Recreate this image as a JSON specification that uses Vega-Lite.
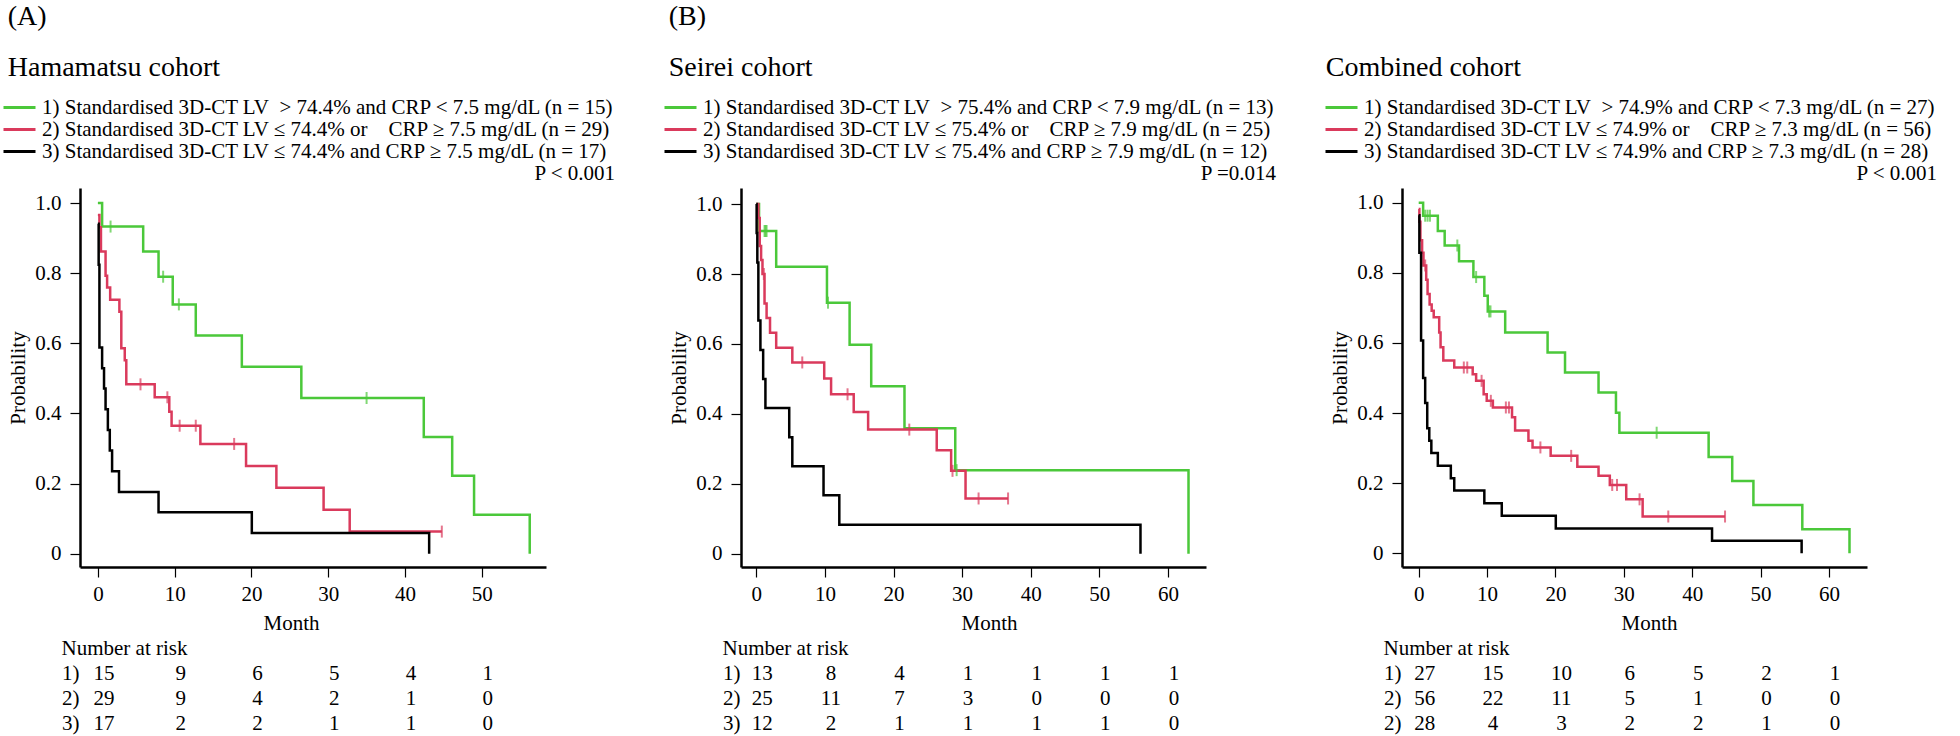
{
  "$schema": "https://vega.github.io/schema/vega-lite/v6.json",
  "background": "white",
  "padding": {"left": 2, "top": 3, "right": 0, "bottom": 0},
  "config": {
    "font": "Liberation Serif",
    "view": {"stroke": null},
    "title": {"font": "Liberation Serif", "fontSize": 28, "fontWeight": "normal", "color": "black", "anchor": "start", "frame": "bounds"},
    "axis": {"domainColor": "black", "domainWidth": 2.5, "tickColor": "black", "tickWidth": 1.2, "tickSize": 10, "labelFont": "Liberation Serif", "labelFontSize": 21, "labelColor": "black", "titleFont": "Liberation Serif", "titleFontSize": 21, "titleFontWeight": "normal", "titleColor": "black", "grid": false, "labelFlush": false, "labelOverlap": false},
    "axisX": {"labelPadding": 6, "titlePadding": 8},
    "axisY": {"labelPadding": 9, "titlePadding": 6},
    "legend": {"labelFont": "Liberation Serif", "labelFontSize": 21, "labelColor": "black", "labelLimit": 1000, "labelOffset": 5, "symbolType": "stroke", "symbolSize": 1024, "symbolStrokeWidth": 3, "clipHeight": 21, "rowPadding": 0, "padding": 0, "titleFont": "Liberation Serif", "titleFontSize": 21, "titleFontWeight": "normal", "titleColor": "black", "titleOrient": "bottom", "titleAnchor": "end", "titleAlign": "right", "titlePadding": 1, "titleLimit": 1000},
    "text": {"font": "Liberation Serif", "fontSize": 21, "color": "black"}
  },
  "datasets": {
    "kmA": [
      {"t":0,"s":1,"g":"1"},{"t":0.55,"s":0.933,"g":"1"},{"t":5.9,"s":0.862,"g":"1"},{"t":7.9,"s":0.79,"g":"1"},{"t":9.75,"s":0.711,"g":"1"},{"t":12.75,"s":0.622,"g":"1"},{"t":18.75,"s":0.533,"g":"1"},{"t":26.5,"s":0.444,"g":"1"},{"t":42.45,"s":0.333,"g":"1"},{"t":46.15,"s":0.222,"g":"1"},{"t":49,"s":0.111,"g":"1"},{"t":56.25,"s":0,"g":"1"},
      {"t":0,"s":0.966,"g":"2"},{"t":0.2,"s":0.931,"g":"2"},{"t":0.4,"s":0.862,"g":"2"},{"t":1,"s":0.793,"g":"2"},{"t":1.2,"s":0.759,"g":"2"},{"t":1.6,"s":0.724,"g":"2"},{"t":2.8,"s":0.69,"g":"2"},{"t":3.05,"s":0.586,"g":"2"},{"t":3.5,"s":0.552,"g":"2"},{"t":3.7,"s":0.483,"g":"2"},{"t":7.4,"s":0.446,"g":"2"},{"t":9.3,"s":0.405,"g":"2"},{"t":9.6,"s":0.365,"g":"2"},{"t":13.35,"s":0.313,"g":"2"},{"t":19.3,"s":0.25,"g":"2"},{"t":23.25,"s":0.188,"g":"2"},{"t":29.4,"s":0.125,"g":"2"},{"t":32.8,"s":0.063,"g":"2"},{"t":44.8,"s":0.063,"g":"2"},
      {"t":0,"s":0.941,"g":"3"},{"t":0.1,"s":0.824,"g":"3"},{"t":0.2,"s":0.588,"g":"3"},{"t":0.55,"s":0.529,"g":"3"},{"t":0.8,"s":0.471,"g":"3"},{"t":1,"s":0.412,"g":"3"},{"t":1.3,"s":0.353,"g":"3"},{"t":1.55,"s":0.294,"g":"3"},{"t":1.85,"s":0.235,"g":"3"},{"t":2.75,"s":0.176,"g":"3"},{"t":7.9,"s":0.118,"g":"3"},{"t":20.05,"s":0.059,"g":"3"},{"t":43.15,"s":0,"g":"3"}
    ],
    "cenA": [
      {"t":1.65,"s":0.933,"g":"1"},{"t":8.5,"s":0.79,"g":"1"},{"t":10.55,"s":0.711,"g":"1"},{"t":35,"s":0.444,"g":"1"},
      {"t":5.55,"s":0.483,"g":"2"},{"t":9.05,"s":0.446,"g":"2"},{"t":10.65,"s":0.365,"g":"2"},{"t":12.75,"s":0.365,"g":"2"},{"t":17.75,"s":0.313,"g":"2"},{"t":44.8,"s":0.063,"g":"2"}
    ],
    "riskA": [
      {"month":0,"row":"1","n":15},{"month":10,"row":"1","n":9},{"month":20,"row":"1","n":6},{"month":30,"row":"1","n":5},{"month":40,"row":"1","n":4},{"month":50,"row":"1","n":1},
      {"month":0,"row":"2","n":29},{"month":10,"row":"2","n":9},{"month":20,"row":"2","n":4},{"month":30,"row":"2","n":2},{"month":40,"row":"2","n":1},{"month":50,"row":"2","n":0},
      {"month":0,"row":"3","n":17},{"month":10,"row":"3","n":2},{"month":20,"row":"3","n":2},{"month":30,"row":"3","n":1},{"month":40,"row":"3","n":1},{"month":50,"row":"3","n":0}
    ],
    "kmB": [
      {"t":0,"s":1,"g":"1"},{"t":0.4,"s":0.923,"g":"1"},{"t":2.9,"s":0.821,"g":"1"},{"t":10.3,"s":0.718,"g":"1"},{"t":13.6,"s":0.598,"g":"1"},{"t":16.75,"s":0.479,"g":"1"},{"t":21.6,"s":0.359,"g":"1"},{"t":29,"s":0.239,"g":"1"},{"t":63,"s":0,"g":"1"},
      {"t":0,"s":1,"g":"2"},{"t":0.3,"s":0.96,"g":"2"},{"t":0.5,"s":0.88,"g":"2"},{"t":0.7,"s":0.84,"g":"2"},{"t":0.9,"s":0.8,"g":"2"},{"t":1.2,"s":0.716,"g":"2"},{"t":1.5,"s":0.674,"g":"2"},{"t":2,"s":0.632,"g":"2"},{"t":2.9,"s":0.589,"g":"2"},{"t":5.25,"s":0.547,"g":"2"},{"t":9.9,"s":0.501,"g":"2"},{"t":10.9,"s":0.456,"g":"2"},{"t":14.2,"s":0.405,"g":"2"},{"t":16.3,"s":0.355,"g":"2"},{"t":26.3,"s":0.296,"g":"2"},{"t":28.4,"s":0.237,"g":"2"},{"t":30.5,"s":0.158,"g":"2"},{"t":36.7,"s":0.158,"g":"2"},
      {"t":0,"s":1,"g":"3"},{"t":0.05,"s":0.917,"g":"3"},{"t":0.15,"s":0.833,"g":"3"},{"t":0.3,"s":0.667,"g":"3"},{"t":0.6,"s":0.583,"g":"3"},{"t":1,"s":0.5,"g":"3"},{"t":1.33,"s":0.417,"g":"3"},{"t":4.8,"s":0.333,"g":"3"},{"t":5.25,"s":0.25,"g":"3"},{"t":9.8,"s":0.167,"g":"3"},{"t":12.1,"s":0.083,"g":"3"},{"t":56,"s":0,"g":"3"}
    ],
    "cenB": [
      {"t":1.2,"s":0.923,"g":"1"},{"t":1.35,"s":0.923,"g":"1"},{"t":1.5,"s":0.923,"g":"1"},{"t":10.45,"s":0.718,"g":"1"},{"t":29.2,"s":0.239,"g":"1"},
      {"t":1.1,"s":0.8,"g":"2"},{"t":6.7,"s":0.547,"g":"2"},{"t":13.3,"s":0.456,"g":"2"},{"t":22.3,"s":0.355,"g":"2"},{"t":28.6,"s":0.237,"g":"2"},{"t":32.4,"s":0.158,"g":"2"},{"t":36.7,"s":0.158,"g":"2"}
    ],
    "riskB": [
      {"month":0,"row":"1","n":13},{"month":10,"row":"1","n":8},{"month":20,"row":"1","n":4},{"month":30,"row":"1","n":1},{"month":40,"row":"1","n":1},{"month":50,"row":"1","n":1},{"month":60,"row":"1","n":1},
      {"month":0,"row":"2","n":25},{"month":10,"row":"2","n":11},{"month":20,"row":"2","n":7},{"month":30,"row":"2","n":3},{"month":40,"row":"2","n":0},{"month":50,"row":"2","n":0},{"month":60,"row":"2","n":0},
      {"month":0,"row":"3","n":12},{"month":10,"row":"3","n":2},{"month":20,"row":"3","n":1},{"month":30,"row":"3","n":1},{"month":40,"row":"3","n":1},{"month":50,"row":"3","n":1},{"month":60,"row":"3","n":0}
    ],
    "kmC": [
      {"t":0,"s":1,"g":"1"},{"t":0.65,"s":0.963,"g":"1"},{"t":2.8,"s":0.919,"g":"1"},{"t":3.8,"s":0.878,"g":"1"},{"t":5.9,"s":0.833,"g":"1"},{"t":8,"s":0.788,"g":"1"},{"t":9.6,"s":0.735,"g":"1"},{"t":10.1,"s":0.69,"g":"1"},{"t":12.65,"s":0.63,"g":"1"},{"t":18.85,"s":0.573,"g":"1"},{"t":21.4,"s":0.516,"g":"1"},{"t":26.3,"s":0.459,"g":"1"},{"t":28.85,"s":0.401,"g":"1"},{"t":29.35,"s":0.344,"g":"1"},{"t":42.4,"s":0.275,"g":"1"},{"t":45.85,"s":0.206,"g":"1"},{"t":48.95,"s":0.138,"g":"1"},{"t":56.1,"s":0.069,"g":"1"},{"t":63,"s":0,"g":"1"},
      {"t":0,"s":0.982,"g":"2"},{"t":0.1,"s":0.946,"g":"2"},{"t":0.25,"s":0.893,"g":"2"},{"t":0.5,"s":0.857,"g":"2"},{"t":0.7,"s":0.821,"g":"2"},{"t":1.1,"s":0.78,"g":"2"},{"t":1.3,"s":0.74,"g":"2"},{"t":1.6,"s":0.71,"g":"2"},{"t":1.9,"s":0.692,"g":"2"},{"t":2.2,"s":0.673,"g":"2"},{"t":3,"s":0.63,"g":"2"},{"t":3.2,"s":0.588,"g":"2"},{"t":3.6,"s":0.55,"g":"2"},{"t":5.2,"s":0.53,"g":"2"},{"t":7.9,"s":0.511,"g":"2"},{"t":8.4,"s":0.492,"g":"2"},{"t":9.5,"s":0.454,"g":"2"},{"t":9.95,"s":0.435,"g":"2"},{"t":10.85,"s":0.416,"g":"2"},{"t":13.65,"s":0.388,"g":"2"},{"t":14.1,"s":0.35,"g":"2"},{"t":16.05,"s":0.321,"g":"2"},{"t":16.65,"s":0.302,"g":"2"},{"t":19.3,"s":0.278,"g":"2"},{"t":23.2,"s":0.247,"g":"2"},{"t":26.3,"s":0.221,"g":"2"},{"t":27.95,"s":0.195,"g":"2"},{"t":30.35,"s":0.154,"g":"2"},{"t":32.75,"s":0.105,"g":"2"},{"t":44.8,"s":0.105,"g":"2"},
      {"t":0,"s":0.964,"g":"3"},{"t":0.1,"s":0.857,"g":"3"},{"t":0.35,"s":0.607,"g":"3"},{"t":0.65,"s":0.5,"g":"3"},{"t":0.95,"s":0.429,"g":"3"},{"t":1.25,"s":0.357,"g":"3"},{"t":1.55,"s":0.321,"g":"3"},{"t":1.85,"s":0.286,"g":"3"},{"t":2.8,"s":0.25,"g":"3"},{"t":4.7,"s":0.214,"g":"3"},{"t":5.2,"s":0.179,"g":"3"},{"t":9.6,"s":0.143,"g":"3"},{"t":12.15,"s":0.107,"g":"3"},{"t":20.05,"s":0.071,"g":"3"},{"t":42.9,"s":0.036,"g":"3"},{"t":56,"s":0,"g":"3"}
    ],
    "cenC": [
      {"t":0.95,"s":0.963,"g":"1"},{"t":1.3,"s":0.963,"g":"1"},{"t":1.65,"s":0.963,"g":"1"},{"t":5.65,"s":0.878,"g":"1"},{"t":8.4,"s":0.788,"g":"1"},{"t":10.3,"s":0.69,"g":"1"},{"t":10.5,"s":0.69,"g":"1"},{"t":34.8,"s":0.344,"g":"1"},
      {"t":0.95,"s":0.821,"g":"2"},{"t":6.6,"s":0.53,"g":"2"},{"t":7.1,"s":0.53,"g":"2"},{"t":9.2,"s":0.492,"g":"2"},{"t":10.55,"s":0.435,"g":"2"},{"t":12.75,"s":0.416,"g":"2"},{"t":13.2,"s":0.416,"g":"2"},{"t":17.8,"s":0.302,"g":"2"},{"t":22.3,"s":0.278,"g":"2"},{"t":28.3,"s":0.195,"g":"2"},{"t":29,"s":0.195,"g":"2"},{"t":32.3,"s":0.154,"g":"2"},{"t":36.5,"s":0.105,"g":"2"},{"t":44.8,"s":0.105,"g":"2"}
    ],
    "riskC": [
      {"month":0,"row":"1","n":27},{"month":10,"row":"1","n":15},{"month":20,"row":"1","n":10},{"month":30,"row":"1","n":6},{"month":40,"row":"1","n":5},{"month":50,"row":"1","n":2},{"month":60,"row":"1","n":1},
      {"month":0,"row":"2","n":56},{"month":10,"row":"2","n":22},{"month":20,"row":"2","n":11},{"month":30,"row":"2","n":5},{"month":40,"row":"2","n":1},{"month":50,"row":"2","n":0},{"month":60,"row":"2","n":0},
      {"month":0,"row":"3","n":28},{"month":10,"row":"3","n":4},{"month":20,"row":"3","n":3},{"month":30,"row":"3","n":2},{"month":40,"row":"3","n":2},{"month":50,"row":"3","n":1},{"month":60,"row":"3","n":0}
    ]
  },
  "hconcat": [
    {
      "vconcat": [
        {
          "title": {"text": ["(A)", "Hamamatsu cohort"], "lineHeight": 51, "offset": 106},
          "width": 466, "height": 379,
          "layer": [
            {
              "data": {"name": "kmA"},
              "mark": {"type": "line", "interpolate": "step-after", "strokeWidth": 2.5},
              "encoding": {
                "x": {"field": "t", "type": "quantitative", "scale": {"domain": [-2.33, 58.37], "nice": false, "zero": false}, "axis": {"values": [0, 10, 20, 30, 40, 50], "title": "Month", "titleX": 211}},
                "y": {"field": "s", "type": "quantitative", "scale": {"domain": [-0.038, 1.043], "nice": false, "zero": false}, "axis": {"values": [0, 0.2, 0.4, 0.6, 0.8, 1], "title": "Probability", "labelExpr": "datum.value == 0 ? '0' : format(datum.value, '.1f')"}},
                "color": {"field": "g", "type": "nominal", "scale": {"domain": ["1", "2", "3"], "range": ["#4BC83A", "#DA3A5C", "#000000"]},
                  "legend": {"title": "P < 0.001", "orient": "none", "legendX": -78, "legendY": -91,
                    "labelExpr": "datum.value == '1' ? '1) Standardised 3D-CT LV\u00a0 > 74.4% and CRP < 7.5 mg/dL (n = 15)' : datum.value == '2' ? '2) Standardised 3D-CT LV ≤ 74.4% or\u00a0\u00a0\u00a0\u00a0CRP ≥ 7.5 mg/dL (n = 29)' : '3) Standardised 3D-CT LV ≤ 74.4% and CRP ≥ 7.5 mg/dL (n = 17)'"}}
              }
            },
            {
              "data": {"name": "cenA"},
              "mark": {"type": "tick", "orient": "vertical", "size": 12, "thickness": 2},
              "encoding": {
                "x": {"field": "t", "type": "quantitative"},
                "y": {"field": "s", "type": "quantitative"},
                "color": {"field": "g", "type": "nominal", "legend": null}
              }
            }
          ]
        },
        {
          "title": {"text": "Number at risk", "fontSize": 21, "offset": 2},
          "width": 466, "height": 75,
          "data": {"name": "riskA"},
          "mark": {"type": "text", "dx": 6},
          "encoding": {
            "x": {"field": "month", "type": "quantitative", "scale": {"domain": [-2.33, 58.37], "nice": false, "zero": false}, "axis": null},
            "y": {"field": "row", "type": "ordinal", "axis": {"domain": false, "ticks": false, "labelPadding": 1, "title": null, "labelExpr": "datum.value + ')'"}},
            "text": {"field": "n", "type": "quantitative"}
          }
        }
      ],
      "spacing": 5,
      "resolve": {"scale": {"x": "independent", "y": "independent"}}
    },
    {
      "vconcat": [
        {
          "title": {"text": ["(B)", "Seirei cohort"], "lineHeight": 51, "offset": 106},
          "width": 465, "height": 379,
          "layer": [
            {
              "data": {"name": "kmB"},
              "mark": {"type": "line", "interpolate": "step-after", "strokeWidth": 2.5},
              "encoding": {
                "x": {"field": "t", "type": "quantitative", "scale": {"domain": [-2.23, 65.55], "nice": false, "zero": false}, "axis": {"values": [0, 10, 20, 30, 40, 50, 60], "title": "Month", "titleX": 248}},
                "y": {"field": "s", "type": "quantitative", "scale": {"domain": [-0.038, 1.046], "nice": false, "zero": false}, "axis": {"values": [0, 0.2, 0.4, 0.6, 0.8, 1], "title": "Probability", "labelExpr": "datum.value == 0 ? '0' : format(datum.value, '.1f')"}},
                "color": {"field": "g", "type": "nominal", "scale": {"domain": ["1", "2", "3"], "range": ["#4BC83A", "#DA3A5C", "#000000"]},
                  "legend": {"title": "P =0.014", "orient": "none", "legendX": -78, "legendY": -91,
                    "labelExpr": "datum.value == '1' ? '1) Standardised 3D-CT LV\u00a0 > 75.4% and CRP < 7.9 mg/dL (n = 13)' : datum.value == '2' ? '2) Standardised 3D-CT LV ≤ 75.4% or\u00a0\u00a0\u00a0\u00a0CRP ≥ 7.9 mg/dL (n = 25)' : '3) Standardised 3D-CT LV ≤ 75.4% and CRP ≥ 7.9 mg/dL (n = 12)'"}}
              }
            },
            {
              "data": {"name": "cenB"},
              "mark": {"type": "tick", "orient": "vertical", "size": 12, "thickness": 2},
              "encoding": {
                "x": {"field": "t", "type": "quantitative"},
                "y": {"field": "s", "type": "quantitative"},
                "color": {"field": "g", "type": "nominal", "legend": null}
              }
            }
          ]
        },
        {
          "title": {"text": "Number at risk", "fontSize": 21, "offset": 2},
          "width": 465, "height": 75,
          "data": {"name": "riskB"},
          "mark": {"type": "text", "dx": 6},
          "encoding": {
            "x": {"field": "month", "type": "quantitative", "scale": {"domain": [-2.23, 65.55], "nice": false, "zero": false}, "axis": null},
            "y": {"field": "row", "type": "ordinal", "axis": {"domain": false, "ticks": false, "labelPadding": 1, "title": null, "labelExpr": "datum.value + ')'"}},
            "text": {"field": "n", "type": "quantitative"}
          }
        }
      ],
      "spacing": 5,
      "resolve": {"scale": {"x": "independent", "y": "independent"}}
    },
    {
      "vconcat": [
        {
          "title": {"text": ["\u00a0", "Combined cohort"], "lineHeight": 51, "offset": 106, "dx": -4},
          "width": 465, "height": 379,
          "layer": [
            {
              "data": {"name": "kmC"},
              "mark": {"type": "line", "interpolate": "step-after", "strokeWidth": 2.5},
              "encoding": {
                "x": {"field": "t", "type": "quantitative", "scale": {"domain": [-2.44, 65.56], "nice": false, "zero": false}, "axis": {"values": [0, 10, 20, 30, 40, 50, 60], "title": "Month", "titleX": 247}},
                "y": {"field": "s", "type": "quantitative", "scale": {"domain": [-0.039, 1.042], "nice": false, "zero": false}, "axis": {"values": [0, 0.2, 0.4, 0.6, 0.8, 1], "title": "Probability", "labelExpr": "datum.value == 0 ? '0' : format(datum.value, '.1f')"}},
                "color": {"field": "g", "type": "nominal", "scale": {"domain": ["1", "2", "3"], "range": ["#4BC83A", "#DA3A5C", "#000000"]},
                  "legend": {"title": "P < 0.001", "orient": "none", "legendX": -78, "legendY": -91,
                    "labelExpr": "datum.value == '1' ? '1) Standardised 3D-CT LV\u00a0 > 74.9% and CRP < 7.3 mg/dL (n = 27)' : datum.value == '2' ? '2) Standardised 3D-CT LV ≤ 74.9% or\u00a0\u00a0\u00a0\u00a0CRP ≥ 7.3 mg/dL (n = 56)' : '3) Standardised 3D-CT LV ≤ 74.9% and CRP ≥ 7.3 mg/dL (n = 28)'"}}
              }
            },
            {
              "data": {"name": "cenC"},
              "mark": {"type": "tick", "orient": "vertical", "size": 12, "thickness": 2},
              "encoding": {
                "x": {"field": "t", "type": "quantitative"},
                "y": {"field": "s", "type": "quantitative"},
                "color": {"field": "g", "type": "nominal", "legend": null}
              }
            }
          ]
        },
        {
          "title": {"text": "Number at risk", "fontSize": 21, "offset": 2},
          "width": 465, "height": 75,
          "data": {"name": "riskC"},
          "mark": {"type": "text", "dx": 6},
          "encoding": {
            "x": {"field": "month", "type": "quantitative", "scale": {"domain": [-2.44, 65.56], "nice": false, "zero": false}, "axis": null},
            "y": {"field": "row", "type": "ordinal", "axis": {"domain": false, "ticks": false, "labelPadding": 1, "title": null, "labelExpr": "datum.value == '3' ? '2)' : datum.value + ')'"}},
            "text": {"field": "n", "type": "quantitative"}
          }
        }
      ],
      "spacing": 5,
      "resolve": {"scale": {"x": "independent", "y": "independent"}}
    }
  ],
  "spacing": 48,
  "resolve": {"scale": {"color": "independent", "x": "independent", "y": "independent"}, "legend": {"color": "independent"}}
}
